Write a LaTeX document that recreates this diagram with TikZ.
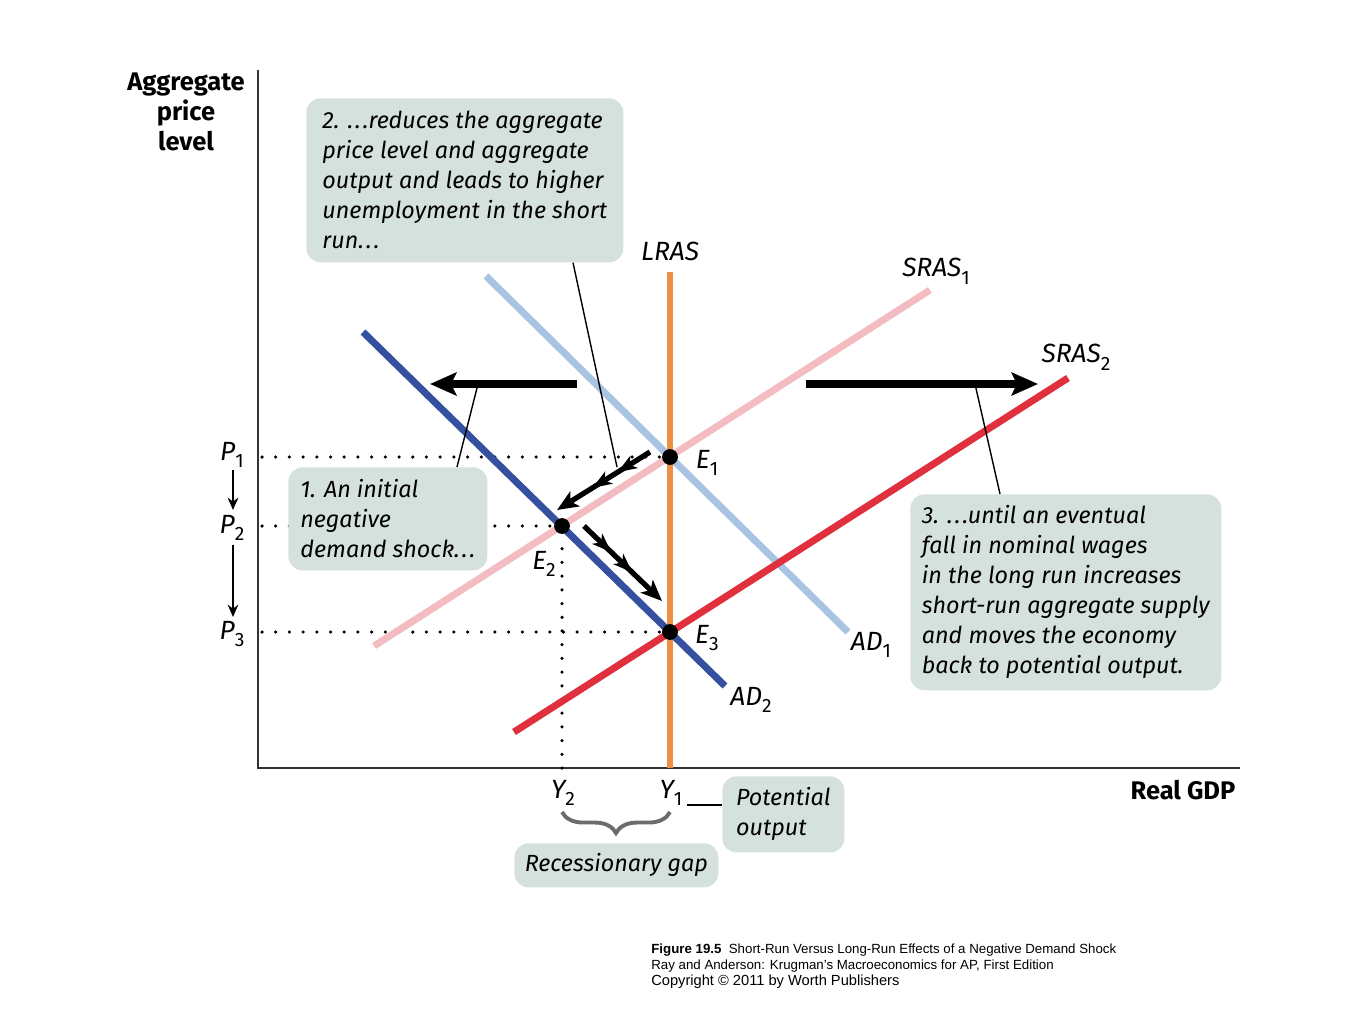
\documentclass[tikz,border=0pt]{standalone}
\usepackage{fontspec}
\setmainfont{Fira Sans}
\newfontfamily\capfont{Liberation Sans}
\usetikzlibrary{arrows.meta,decorations.markings,decorations.pathreplacing}
\newcommand\lsub[1]{\raisebox{-0.55ex}{\fontsize{11}{11}\selectfont\upshape #1}}
\newcommand\dotsx{.\kern1.2pt.\kern1.2pt.}
\definecolor{adone}{HTML}{A9C3E2}
\definecolor{adtwo}{HTML}{34509E}
\definecolor{srasone}{HTML}{F3BCC0}
\definecolor{srastwo}{HTML}{E0303E}
\definecolor{lras}{HTML}{EF8F43}
\definecolor{boxfill}{HTML}{D5E1DD}
\definecolor{axisgray}{HTML}{333333}
\begin{document}
\begin{tikzpicture}[x=0.02cm,y=-0.02cm,
  curve/.style={line width=4pt},
  axisline/.style={line width=1.2pt, draw=axisgray},
  dotline/.style={line width=2pt, line cap=round, dash pattern=on 0pt off 7.8pt},
  eqdot/.style={circle, fill=black, inner sep=0pt, minimum size=9pt},
  lbl/.style={font=\fontsize{15}{15}\selectfont\itshape, inner sep=0pt},
  boxnote/.style={fill=boxfill, rounded corners=8pt, align=left, inner sep=0pt,
     anchor=north west, font=\fontsize{13.3}{17.07}\selectfont\itshape},
  bigarrow/.style={line width=4pt, -{Stealth[length=15pt,width=13pt,inset=3pt]}},
  leader/.style={line width=0.8pt},
  parrow/.style={line width=1.1pt, -{Stealth[length=7pt,width=6pt]}},
  barbed/.style={line width=3pt, -{Stealth[length=12pt,width=10pt,inset=3pt]},
     postaction={decorate},
     decoration={markings,
       mark=at position 0.35 with {\arrow{Stealth[length=11pt,width=8pt,inset=3pt]}},
       mark=at position 0.62 with {\arrow{Stealth[length=11pt,width=8pt,inset=3pt]}}}}
]
\useasboundingbox (0,0) rectangle (1365,1024);

% axes
\coordinate (O) at (258,768);
\coordinate (ytop) at (258,70);
\coordinate (xend) at (1240,768);
\draw[axisline] (ytop) -- (O) -- (xend);

% equilibrium points
\coordinate (e1) at (670,457);
\coordinate (e2) at (562,526);
\coordinate (e3) at (670,632);

% dotted guide lines
\coordinate (p1a) at (262,457);
\coordinate (p2a) at (262,526);
\coordinate (p3a) at (262,632);
\coordinate (y2a) at (562,768);
\draw[dotline] (p1a) -- (660,457);
\draw[dotline] (p2a) -- (552,526);
\draw[dotline] (p3a) -- (660,632);
\draw[dotline] (y2a) -- (562,536);

% curves
\draw[curve, adone] (486,276) -- (848,632);
\draw[curve, srasone] (374,646) -- (930,290);
\draw[curve, srastwo] (514,732) -- (1068,378);
\draw[line width=3.6pt, lras] (670,272) -- (670,768);
\draw[curve, adtwo] (363,332) -- (725,686);

% dots
\node[eqdot] (E1) at (e1) {};
\node[eqdot] (E2) at (e2) {};
\node[eqdot] (E3) at (e3) {};

% curve labels
\node[lbl] (lLRAS) at (670,251) {LRAS};
\node[lbl] (lS1) at (936,271) {SRAS\lsub{1}};
\node[lbl] (lS2) at (1076,357) {SRAS\lsub{2}};
\node[lbl] (lAD1) at (871,645) {AD\lsub{1}};
\node[lbl] (lAD2) at (751,700) {AD\lsub{2}};
\node[lbl] (lE1) at (707,463) {E\lsub{1}};
\node[lbl] (lE2) at (544,564) {E\lsub{2}};
\node[lbl] (lE3) at (707,638) {E\lsub{3}};
\node[lbl] (lP1) at (232,455) {P\lsub{1}};
\node[lbl] (lP2) at (232,528) {P\lsub{2}};
\node[lbl] (lP3) at (232,634) {P\lsub{3}};
\node[lbl] (lY2) at (563,793) {Y\lsub{2}};
\node[lbl] (lY1) at (671,793) {Y\lsub{1}};

% P arrows
\draw[parrow] (233,470) -- (233,510);
\draw[parrow] (233,545) -- (233,617);

% axis titles
\node[align=center, inner sep=0pt, font=\fontsize{14.5}{17.07}\selectfont\bfseries] (ytitle) at (186,112) {Aggregate\\price\\level};
\node[inner sep=0pt, font=\fontsize{14.5}{17}\selectfont\bfseries] (xtitle) at (1183,790) {Real GDP};

% shift arrows
\coordinate (la1) at (577,384);
\coordinate (la2) at (430,384);
\coordinate (ra1) at (806,384);
\coordinate (ra2) at (1038,384);
\draw[bigarrow] (la1) -- (la2);
\draw[bigarrow] (ra1) -- (ra2);

% movement arrows
\coordinate (m1a) at (650,452);
\coordinate (m1b) at (557,510);
\coordinate (m2a) at (584,526);
\coordinate (m2b) at (662,601);
\draw[barbed] (m1a) -- (m1b);
\draw[barbed] (m2a) -- (m2b);

% note boxes
\node[boxnote, minimum width=6.34cm, minimum height=3.28cm] (box2) at (306,98)
 {2. \dotsx reduces the aggregate\\price level and aggregate\\output and leads to higher\\unemployment in the short\\run\dotsx};
\node[boxnote, minimum width=3.98cm, minimum height=2.06cm] (box1) at (288,467)
 {1. An initial\\negative\\demand shock\dotsx};
\node[boxnote, minimum width=6.22cm, minimum height=3.92cm] (box3) at (910,494)
 {3. \dotsx until an eventual\\fall in nominal wages\\in the long run increases\\short-run aggregate supply\\and moves the economy\\back to potential output.};
\node[boxnote, minimum width=2.44cm, minimum height=1.52cm] (boxpot) at (722,776)
 {Potential\\output};
\node[boxnote, minimum width=4.08cm, minimum height=0.88cm, align=center] (boxgap) at (514,843)
 {Recessionary gap};

% leaders
\draw[leader] (box1.north west) ++(169,0) coordinate (b1t) -- (478,384);
\draw[leader] (box2.south west) ++(267,0) coordinate (b2b) -- (617,467);
\draw[leader] (box3.north west) ++(90,0) coordinate (b3t) -- (975,384);
\draw[leader] (687,805) -- (boxpot.west |- 0,805);

% brace
\draw[decorate, decoration={brace, amplitude=12pt}, line width=2.2pt, draw=gray!85!black] (670,812) -- (562,812);

% caption
\node[anchor=base west, align=left, inner sep=0pt, font=\capfont\fontsize{7.56}{9.1}\selectfont] (cap) at (651,985)
 {\textbf{Figure 19.5}\ \ Short-Run Versus Long-Run Effects of a Negative Demand Shock\\
  Ray and Anderson: Krugman’s Macroeconomics for AP, First Edition\\
  {\fontsize{8.34}{9.1}\selectfont Copyright © 2011 by Worth Publishers}};
\end{tikzpicture}
\end{document}
